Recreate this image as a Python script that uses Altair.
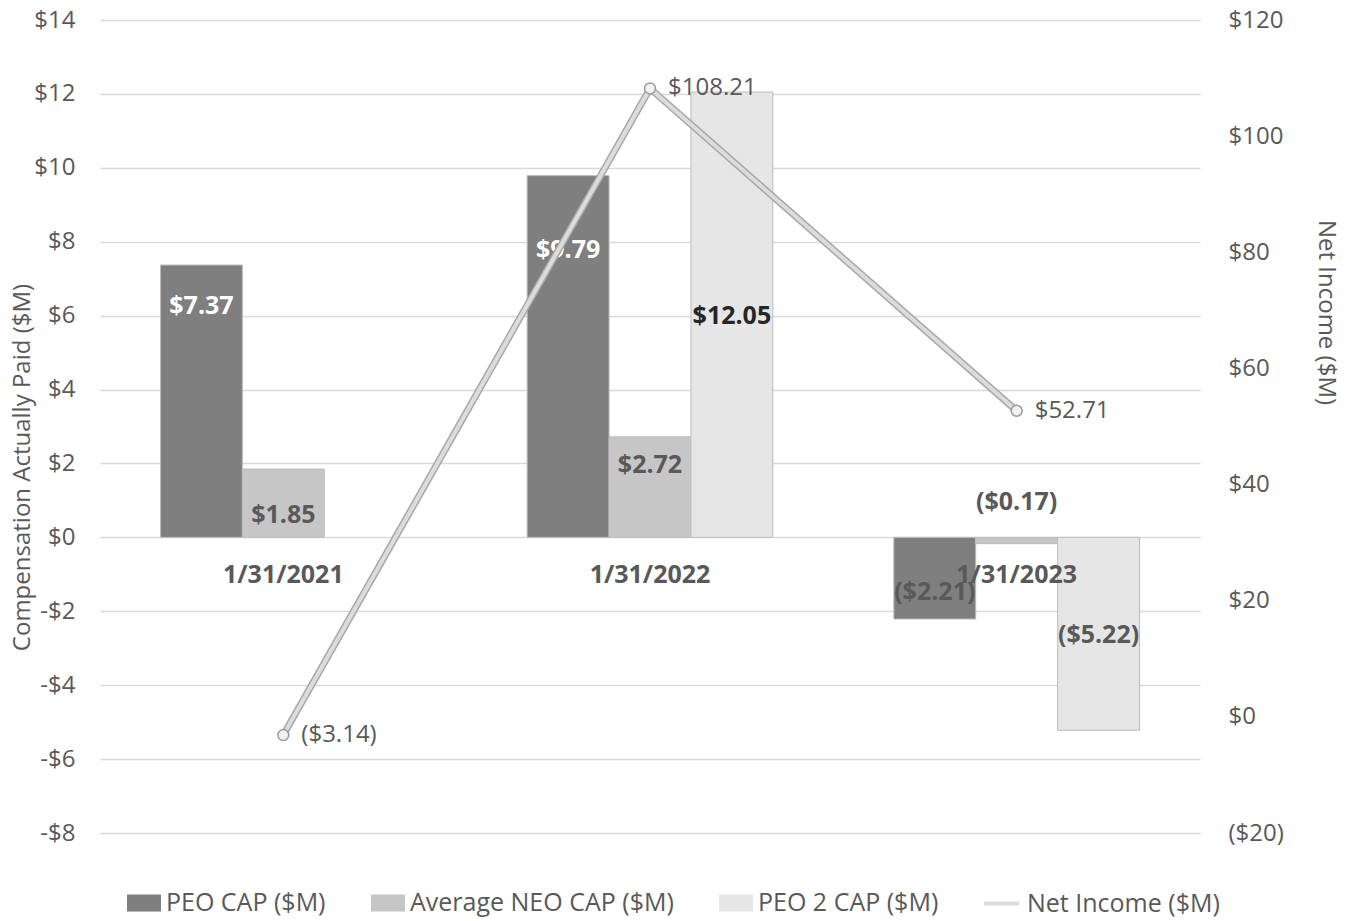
import altair as alt
import pandas as pd

categories = ["1/31/2021", "1/31/2022", "1/31/2023"]
series = ["PEO CAP ($M)", "Average NEO CAP ($M)", "PEO 2 CAP ($M)"]
peo_cap = [7.37, 9.79, -2.21]
neo_cap = [1.85, 2.72, -0.17]
peo2_cap = [None, 12.05, -5.22]
net_income = [-3.14, 108.21, 52.71]
net_income_name = "Net Income ($M)"

# where each bar's value label sits (left-axis units)
peo_label_at = [6.25, 7.77, -1.49]
neo_label_at = [0.6, 1.95, 0.95]
peo2_label_at = [None, 5.98, -2.65]
category_label_at = -1.03

bar_colors = ["#7f7f7f", "#c6c6c6", "#e6e6e6"]


def money(v):
    return f"(${abs(v):.2f})" if v < 0 else f"${v:.2f}"


rows = []
for s, vals, labs in zip(series, [peo_cap, neo_cap, peo2_cap],
                         [peo_label_at, neo_label_at, peo2_label_at]):
    for c, v, la in zip(categories, vals, labs):
        if v is None:
            continue
        rows.append({"category": c, "series": s, "value": v,
                     "label": money(v), "label_at": la})
bars_df = pd.DataFrame(rows)

line_df = pd.DataFrame({"category": categories, "value": net_income,
                        "label": [money(v) for v in net_income],
                        "name": net_income_name})
cat_df = pd.DataFrame({"category": categories, "y": category_label_at})

FONT = "Open Sans"
GRAY = "#595959"
FS = 24
LFS = 25

x_enc = alt.X("category:N",
              scale=alt.Scale(type="band", domain=categories,
                              paddingInner=0.33, paddingOuter=0.165),
              axis=None)
xoff = alt.XOffset("series:N", scale=alt.Scale(domain=series, paddingInner=0, paddingOuter=0))

left_scale = alt.Scale(domain=[-8, 14], nice=False, zero=False)
left_axis = alt.Axis(
    values=list(range(-8, 15, 2)),
    labelExpr="datum.value < 0 ? '-$' + abs(datum.value) : '$' + datum.value",
    grid=True, gridColor="#d9d9d9", gridWidth=1.5,
    domain=False, ticks=False, labelPadding=25,
    labelFontSize=FS, labelColor=GRAY, labelFont=FONT,
    title="Compensation Actually Paid ($M)", titleFontSize=FS, titleColor=GRAY,
    titleFontWeight="normal", titleFont=FONT,
    titleX=-78, titleY=447, titleBaseline="middle", titleAngle=270,
)
right_scale = alt.Scale(domain=[-20, 120], nice=False, zero=False)
right_axis = alt.Axis(
    values=list(range(-20, 121, 20)),
    labelExpr="datum.value < 0 ? '($' + abs(datum.value) + ')' : '$' + datum.value",
    grid=False, domain=False, ticks=False, labelPadding=28,
    labelFontSize=FS, labelColor=GRAY, labelFont=FONT,
    title="Net Income ($M)", titleFontSize=FS, titleColor=GRAY,
    titleFontWeight="normal", titleFont=FONT,
    titleX=125, titleY=292, titleBaseline="middle", titleAngle=90,
)

bars = alt.Chart(bars_df).mark_bar(stroke="#bdbdbd", strokeWidth=1).encode(
    x=x_enc, xOffset=xoff,
    y=alt.Y("value:Q", scale=left_scale, axis=left_axis),
    fill=alt.Fill("series:N", scale=alt.Scale(domain=series, range=bar_colors),
                  legend=alt.Legend(
                      title=None, orient="none", direction="horizontal",
                      legendX=27, legendY=866,
                      symbolType="M-1,-0.5H1V0.5H-1Z", symbolSize=1156,
                      symbolStrokeWidth=0, labelFontSize=LFS, labelColor=GRAY,
                      labelFont=FONT, labelOffset=5, columnPadding=45,
                      labelLimit=400)),
)

bar_labels = alt.Chart(bars_df).transform_calculate(
    tcolor="datum.series == 'PEO CAP ($M)' && datum.value > 0 ? '#ffffff' : "
           "(datum.series == 'PEO 2 CAP ($M)' && datum.value > 0 ? '#262626' : '#595959')"
).mark_text(fontSize=25, fontWeight="bold", font=FONT, baseline="middle").encode(
    x=x_enc, xOffset=xoff,
    y=alt.Y("label_at:Q", scale=left_scale, axis=left_axis),
    text="label:N",
    color=alt.Color("tcolor:N", scale=None),
)

cat_labels = alt.Chart(cat_df).mark_text(
    fontSize=25, fontWeight="bold", font=FONT, color=GRAY, baseline="middle"
).encode(
    x=x_enc,
    y=alt.Y("y:Q", scale=left_scale, axis=left_axis),
    text="category:N",
)

left = alt.layer(bars, bar_labels, cat_labels)

line_outer = alt.Chart(line_df).mark_line(strokeWidth=7, color="#a8a8a8").encode(
    x=x_enc,
    y=alt.Y("value:Q", scale=right_scale, axis=right_axis),
)
line_inner = alt.Chart(line_df).mark_line(strokeWidth=4).encode(
    x=x_enc,
    y=alt.Y("value:Q", scale=right_scale, axis=right_axis),
    stroke=alt.Stroke("name:N", scale=alt.Scale(domain=[net_income_name], range=["#dcdcdc"]),
                      legend=alt.Legend(
                          title=None, orient="none", legendX=882, legendY=864,
                          symbolType="stroke", symbolSize=1225, symbolStrokeWidth=4,
                          labelFontSize=LFS, labelColor=GRAY, labelFont=FONT,
                          labelOffset=6, labelLimit=400)),
)
points = alt.Chart(line_df).mark_circle(size=120, color="#f2f2f2", stroke="#9a9a9a",
                                        strokeWidth=1.5, opacity=1).encode(
    x=x_enc,
    y=alt.Y("value:Q", scale=right_scale, axis=right_axis),
)
line_labels = alt.Chart(line_df).mark_text(
    fontSize=FS, font=FONT, color=GRAY, align="left", dx=18, baseline="middle"
).encode(
    x=x_enc,
    y=alt.Y("value:Q", scale=right_scale, axis=right_axis),
    text="label:N",
)

right = alt.layer(line_outer, line_inner, points, line_labels)

chart = alt.layer(left, right).resolve_scale(y="independent").properties(
    width=1100, height=813,
    autosize=alt.AutoSizeParams(type="none"),
    padding={"left": 100, "top": 20, "right": 161, "bottom": 88},
    background="white",
).configure(font=FONT).configure_view(stroke="transparent", strokeWidth=0)

chart.save("out.html", embed_options={"renderer": "svg", "actions": False})
